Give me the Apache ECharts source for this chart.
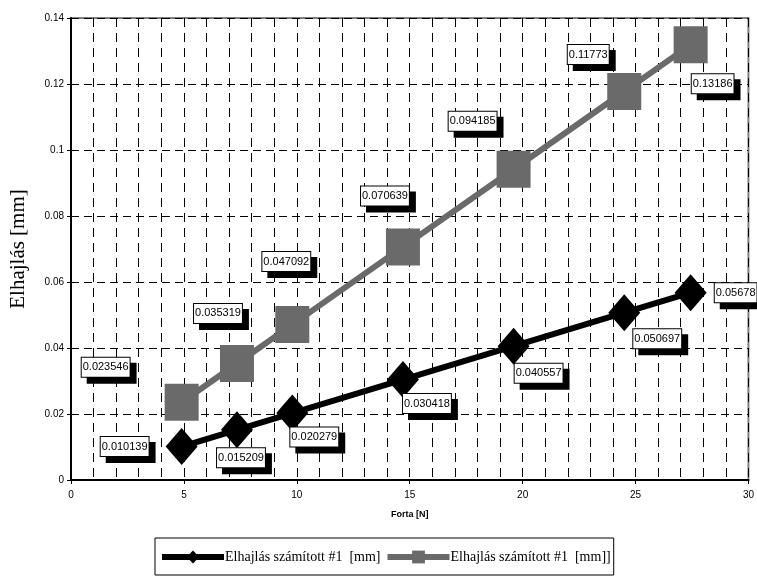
<!DOCTYPE html>
<html>
<head>
<meta charset="utf-8">
<script src="https://cdn.jsdelivr.net/npm/echarts@6/dist/echarts.min.js"></script>
<style>
  html, body { margin: 0; padding: 0; background: #fff; }
  #chart { width: 757px; height: 588px; }
</style>
</head>
<body>
<div id="chart"></div>
<script>
// data
const forces = [4.9, 7.35, 9.8, 14.7, 19.6, 24.5, 27.44];
const deflection1 = [0.010139, 0.015209, 0.020279, 0.030418, 0.040557, 0.050697, 0.05678];
const deflection2 = [0.023546, 0.035319, 0.047092, 0.070639, 0.094185, 0.11773, 0.13186];
const seriesNames = ['Elhajlás számított #1  [mm]', 'Elhajlás számított #1  [mm]]'];

// where each value box sits relative to its point (layout only)
const labelOffsets1 = [[-57, 0], [4, 28], [22, 24], [24, 24], [25, 27], [33, 26], [45, 0]];
const labelOffsets2 = [[-76, -35], [-19, -50], [-6, -63], [-18, -51], [-41, -48], [-36, -37], [22, 39]];

const gray = '#6a6a6a';

function buildData(ys, offsets) {
  return forces.map((x, i) => ({
    value: [x, ys[i]],
    label: { offset: offsets[i] }
  }));
}

const boxLabel = {
  show: true,
  position: 'inside',
  formatter: p => String(p.value[1]),
  fontFamily: 'Liberation Sans, Arial, sans-serif',
  fontSize: 11,
  color: '#000',
  backgroundColor: '#fff',
  borderColor: '#000',
  borderWidth: 1,
  padding: [4, 1, 4, 1],
  shadowColor: '#000',
  shadowOffsetX: 6,
  shadowOffsetY: 6,
  shadowBlur: 0
};

const chart = echarts.init(document.getElementById('chart'));
chart.setOption({
  animation: false,
  backgroundColor: '#fff',
  grid: {
    left: 69, right: 8, top: 18, bottom: 108,
    show: true,
    borderColor: '#808080',
    borderWidth: 2
  },
  legend: {
    left: 155,
    top: 538,
    orient: 'horizontal',
    borderColor: '#000',
    borderWidth: 1,
    padding: [12, 3, 11, 4],
    itemGap: 4,
    itemWidth: 62,
    itemHeight: 16,
    textStyle: {
      fontFamily: 'Liberation Serif, Times New Roman, serif',
      fontSize: 14,
      color: '#000',
      padding: [0, 0, 0, -4]
    },
    data: [
      { name: seriesNames[0], lineStyle: { width: 6, color: '#000' } },
      { name: seriesNames[1], lineStyle: { width: 6, color: gray } }
    ]
  },
  xAxis: {
    type: 'value',
    min: 0, max: 30, interval: 5,
    name: 'Forta [N]',
    nameLocation: 'middle',
    nameGap: 30,
    nameTextStyle: {
      fontFamily: 'Liberation Sans, Arial, sans-serif',
      fontSize: 9, fontWeight: 'bold', color: '#000'
    },
    axisLine: { lineStyle: { color: '#000', width: 2 } },
    axisTick: { show: true, length: 4, lineStyle: { color: '#000' } },
    axisLabel: {
      margin: 10,
      fontFamily: 'Liberation Sans, Arial, sans-serif',
      fontSize: 10, color: '#000'
    },
    splitLine: { show: true, lineStyle: { color: '#000', width: 1, type: [9, 6] } },
    minorTick: { show: false, splitNumber: 5 },
    minorSplitLine: { show: true, lineStyle: { color: '#000', width: 1, type: [9, 6] } }
  },
  yAxis: {
    type: 'value',
    min: 0, max: 0.14, interval: 0.02,
    name: 'Elhajlás [mm]',
    nameLocation: 'middle',
    nameGap: 42,
    nameTextStyle: {
      fontFamily: 'Liberation Serif, Times New Roman, serif',
      fontSize: 21, color: '#000'
    },
    axisLine: { show: true, lineStyle: { color: '#000', width: 2 } },
    axisTick: { show: true, length: 4, lineStyle: { color: '#000' } },
    axisLabel: {
      margin: 7,
      fontFamily: 'Liberation Sans, Arial, sans-serif',
      fontSize: 10, color: '#000'
    },
    splitLine: { show: true, lineStyle: { color: '#000', width: 1, type: [8, 5] } }
  },
  series: [
    {
      name: seriesNames[0],
      type: 'line',
      data: buildData(deflection1, labelOffsets1),
      symbol: 'diamond',
      symbolSize: [32, 37],
      itemStyle: { color: '#000' },
      lineStyle: { color: '#000', width: 6 },
      label: boxLabel,
      z: 3
    },
    {
      name: seriesNames[1],
      type: 'line',
      data: buildData(deflection2, labelOffsets2),
      symbol: 'rect',
      symbolSize: [34, 37],
      itemStyle: { color: gray },
      lineStyle: { color: gray, width: 6 },
      label: boxLabel,
      z: 2
    }
  ]
});
</script>
</body>
</html>
